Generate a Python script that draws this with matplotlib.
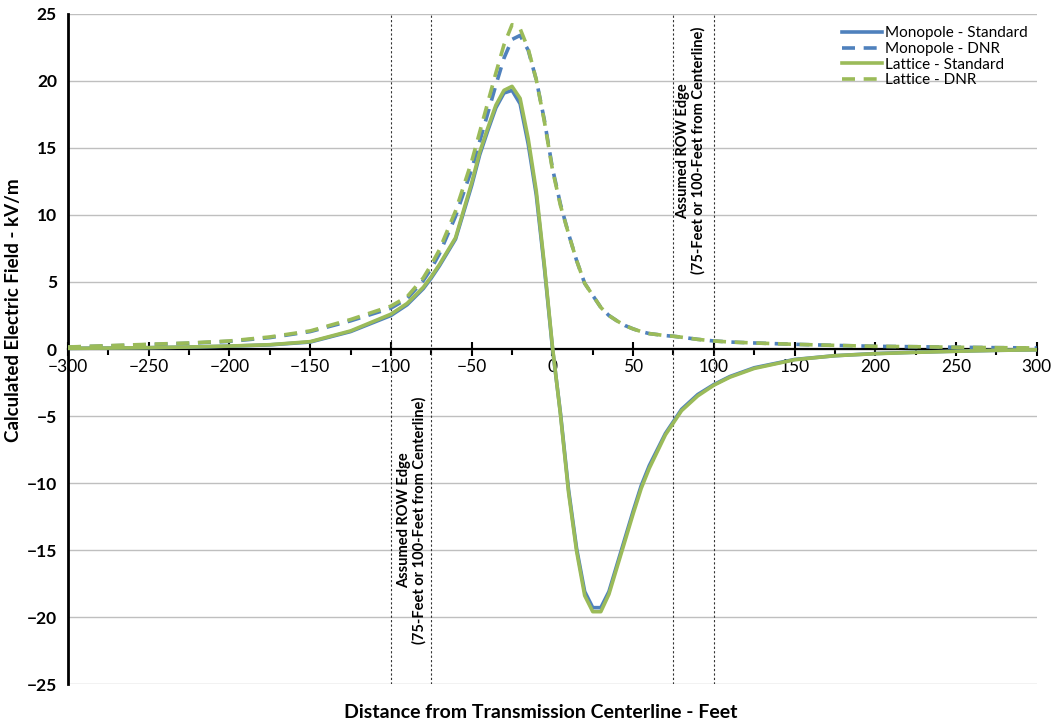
import numpy as np
import matplotlib
matplotlib.use("Agg")
import matplotlib.pyplot as plt
from matplotlib.ticker import MultipleLocator

plt.rcParams['font.family'] = ['Lato', 'DejaVu Sans']

# distance from centerline (ft)
dist_ft = [-300, -275, -250, -225, -200, -175, -150, -125, -100, -90, -80, -75, -70,
           -60, -50, -45, -40, -35, -30, -25, -20, -15, -10, -5, 0, 5, 10, 15, 20,
           25, 30, 35, 40, 45, 50, 55, 60, 70, 75, 80, 90, 100, 110, 125, 150, 175,
           200, 225, 250, 275, 300]

# calculated electric field (kV/m)
monopole_std = [0.05, 0.07, 0.10, 0.14, 0.21, 0.31, 0.52, 1.3, 2.5, 3.3, 4.5, 5.3, 6.2,
                8.2, 12.2, 14.5, 16.3, 18.0, 19.1, 19.3, 18.3, 15.3, 11.5, 6.1, 0.1, -4.8,
                -10.5, -14.9, -18.1, -19.3, -19.3, -18.1, -16.1, -14.1, -12.1, -10.2, -8.7,
                -6.3, -5.4, -4.5, -3.4, -2.65, -2.05, -1.4, -0.78, -0.5, -0.34, -0.24,
                -0.16, -0.10, -0.06]
monopole_dnr = [0.14, 0.23, 0.33, 0.43, 0.57, 0.85, 1.3, 2.1, 3.05, 3.75, 5.1, 6.0, 7.1,
                9.9, 13.4, 15.5, 17.6, 19.7, 21.7, 23.1, 23.4, 22.3, 20.1, 17.1, 13.5, 10.8,
                8.6, 6.6, 4.9, 4.0, 3.1, 2.5, 2.1, 1.75, 1.5, 1.3, 1.15, 1.0, 0.95, 0.88,
                0.72, 0.6, 0.52, 0.45, 0.35, 0.27, 0.2, 0.17, 0.13, 0.10, 0.08]
lattice_std = [0.05, 0.07, 0.10, 0.15, 0.22, 0.32, 0.55, 1.35, 2.6, 3.4, 4.6, 5.4, 6.3,
               8.3, 12.4, 14.7, 16.5, 18.2, 19.3, 19.6, 18.7, 15.7, 11.8, 6.3, 0.2, -4.9,
               -10.7, -15.1, -18.4, -19.6, -19.6, -18.3, -16.3, -14.3, -12.3, -10.4, -8.9,
               -6.4, -5.5, -4.6, -3.5, -2.7, -2.1, -1.45, -0.8, -0.5, -0.35, -0.25, -0.17,
               -0.10, -0.06]
lattice_dnr = [0.15, 0.25, 0.35, 0.45, 0.6, 0.9, 1.35, 2.2, 3.2, 3.9, 5.3, 6.3, 7.4,
               10.3, 14.0, 16.2, 18.4, 20.6, 22.7, 24.2, 23.9, 22.4, 20.1, 17.0, 13.4, 10.7,
               8.6, 6.6, 4.9, 4.0, 3.1, 2.5, 2.1, 1.75, 1.5, 1.3, 1.15, 1.0, 0.95, 0.88,
               0.72, 0.6, 0.52, 0.45, 0.35, 0.27, 0.2, 0.17, 0.13, 0.10, 0.08]

row_edges = [-100, -75, 75, 100]

BLUE = '#4F81BD'
GREEN = '#9BBB59'

fig = plt.figure(figsize=(10.53, 7.24), dpi=100)
ax = fig.add_axes([0.0646, 0.0552, 0.920, 0.9255])

lw = 2.6
dash = (0, (3.6, 2.4))
ax.plot(dist_ft, monopole_std, color=BLUE, lw=lw, label='Monopole - Standard', zorder=3)
ax.plot(dist_ft, monopole_dnr, color=BLUE, lw=lw, ls=dash, label='Monopole - DNR', zorder=3)
ax.plot(dist_ft, lattice_std, color=GREEN, lw=lw, label='Lattice - Standard', zorder=4)
ax.plot(dist_ft, lattice_dnr, color=GREEN, lw=lw, ls=dash, label='Lattice - DNR', zorder=4)

for xe in row_edges:
    ax.axvline(xe, color='#333333', lw=0.8, ls=(0, (2, 2)), zorder=2)

note = 'Assumed ROW Edge\n(75-Feet or 100-Feet from Centerline)'
ax.text(-87, -12.8, note, rotation=90, ha='center', va='center',
        fontsize=10.5, fontweight='bold', linespacing=1.1, zorder=5)
ax.text(86, 14.8, note, rotation=90, ha='center', va='center',
        fontsize=10.5, fontweight='bold', linespacing=1.1, zorder=5)

ax.set_xlim(-300, 300)
ax.set_ylim(-25, 25)
ax.xaxis.set_major_locator(MultipleLocator(50))
ax.xaxis.set_minor_locator(MultipleLocator(25))
ax.yaxis.set_major_locator(MultipleLocator(5))

ax.spines['top'].set_visible(False)
ax.spines['right'].set_visible(False)
ax.spines['bottom'].set_position(('data', 0))
ax.spines['bottom'].set_linewidth(1.6)
ax.spines['left'].set_linewidth(2.0)
ax.spines['bottom'].set_zorder(2.5)

ax.grid(axis='y', color='#BFBFBF', lw=1.0, zorder=0)
ax.set_axisbelow(True)

ax.tick_params(axis='x', which='major', direction='inout', length=10, width=1.5,
               labelsize=12.5, pad=2)
ax.tick_params(axis='x', which='minor', direction='out', length=4, width=1.5)
ax.tick_params(axis='y', length=0, labelsize=12.5, pad=8)
for lbl in ax.get_yticklabels():
    lbl.set_fontweight('bold')

# axis titles placed on the figure so they sit right at the edges
fig.text(0.013, 0.572, 'Calculated Electric Field - kV/m', rotation=90, ha='center',
         va='center', fontsize=13.5, fontweight='bold')
fig.text(0.514, 0.016, 'Distance from Transmission Centerline - Feet', ha='center',
         va='center', fontsize=14, fontweight='bold')

ax.legend(loc='upper right', bbox_to_anchor=(1.0, 0.995), frameon=False, fontsize=11,
          handlelength=2.6, handletextpad=0.2, labelspacing=0.1, borderaxespad=0.2)

fig.savefig('out.png', dpi=100)
